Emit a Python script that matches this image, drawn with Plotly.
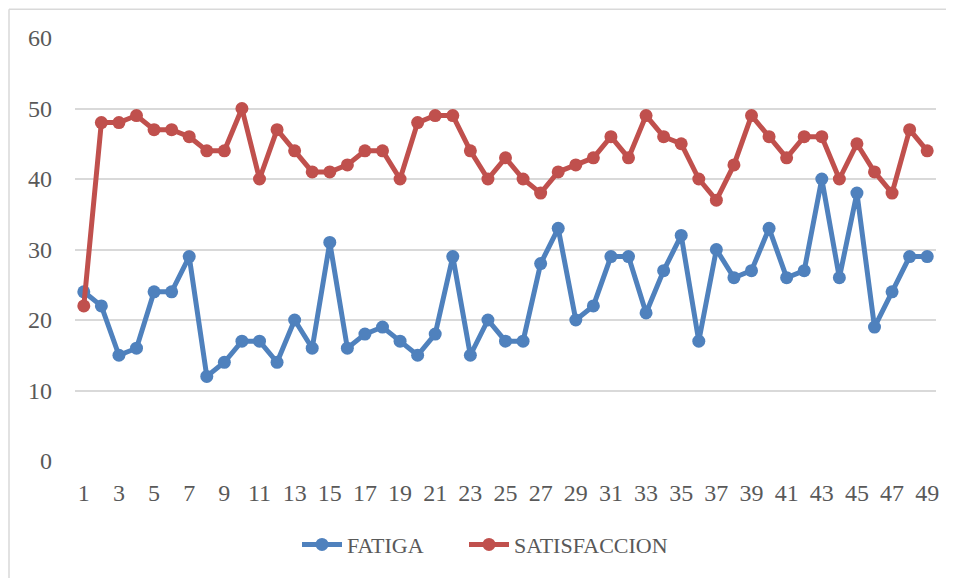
import plotly.graph_objects as go

x_vals = list(range(1, 50))
fatiga = [24, 22, 15, 16, 24, 24, 29, 12, 14, 17, 17, 14, 20, 16, 31, 16, 18, 19, 17, 15,
          18, 29, 15, 20, 17, 17, 28, 33, 20, 22, 29, 29, 21, 27, 32, 17, 30, 26, 27, 33,
          26, 27, 40, 26, 38, 19, 24, 29, 29]
satisfaccion = [22, 48, 48, 49, 47, 47, 46, 44, 44, 50, 40, 47, 44, 41, 41, 42, 44, 44, 40, 48,
                49, 49, 44, 40, 43, 40, 38, 41, 42, 43, 46, 43, 49, 46, 45, 40, 37, 42, 49, 46,
                43, 46, 46, 40, 45, 41, 38, 47, 44]
x_ticks = list(range(1, 50, 2))
y_ticks = [0, 10, 20, 30, 40, 50, 60]

FONT = "Liberation Serif"
TXT = "#595959"

fig = go.Figure()
fig.add_trace(go.Scatter(x=x_vals, y=fatiga, name="FATIGA", mode="lines+markers",
                         line=dict(color="#4F81BD", width=5),
                         marker=dict(color="#4F81BD", size=13), legend="legend"))
fig.add_trace(go.Scatter(x=x_vals, y=satisfaccion, name="SATISFACCION", mode="lines+markers",
                         line=dict(color="#C0504D", width=5),
                         marker=dict(color="#C0504D", size=13), legend="legend2"))

OFF = 8  # page body margin
W, H = 954 - OFF, 578 - OFF
L, R, T, B = 75 - OFF, 18, 38 - OFF, 115
pw, ph = W - L - R, H - T - B


def px(xp):
    return (xp - OFF - L) / pw


def py(yp):
    return 1 - (yp - OFF - T) / ph


leg_common = dict(orientation="h", xanchor="left", y=py(547), yanchor="middle",
                  font=dict(family=FONT, size=22, color=TXT), itemwidth=40,
                  bgcolor="rgba(0,0,0,0)")

fig.update_layout(
    width=W, height=H,
    margin=dict(l=L, r=R, t=T, b=B),
    paper_bgcolor="white", plot_bgcolor="white",
    font=dict(family=FONT, size=22, color=TXT),
    showlegend=True,
    legend=dict(x=px(297), **leg_common),
    legend2=dict(x=px(464), **leg_common),
    xaxis=dict(range=[0.5, 49.5], tickmode="array", tickvals=x_ticks,
               ticktext=[str(v) for v in x_ticks], showgrid=False, zeroline=False,
               showline=False, ticks="", ticklabelstandoff=15,
               tickfont=dict(family=FONT, size=24, color=TXT)),
    yaxis=dict(range=[0, 60], tickmode="array", tickvals=y_ticks,
               showgrid=True, gridcolor="#D9D9D9", gridwidth=1.5, zeroline=False,
               showline=False, ticks="", ticklabelstandoff=22,
               tickfont=dict(family=FONT, size=24, color=TXT)),
    shapes=[
        dict(type="line", xref="paper", yref="paper",
             x0=px(9), x1=px(9), y0=py(700), y1=py(9),
             line=dict(color="#D9D9D9", width=1.5)),
        dict(type="line", xref="paper", yref="paper",
             x0=px(9), x1=px(1000), y0=py(9), y1=py(9),
             line=dict(color="#D9D9D9", width=1.5)),
    ],
)

fig.write_html("out.html")
